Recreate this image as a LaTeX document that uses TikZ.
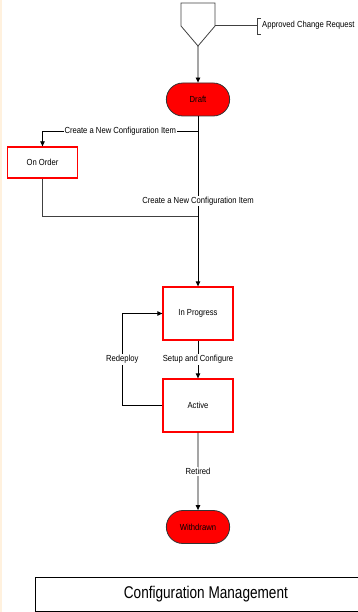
\documentclass[tikz,border=0pt]{standalone}
\usepackage{fontspec}
\usepackage{graphicx}
\setmainfont{Liberation Sans}
\usetikzlibrary{arrows.meta, positioning, shapes.misc}
\definecolor{statered}{HTML}{FF0000}
\definecolor{linegray}{HTML}{404040}
\definecolor{edgeglow}{HTML}{FFF1DE}
\newcommand{\nar}[1]{\scalebox{0.87}[1]{#1}}

\begin{document}
\begin{tikzpicture}[x=1pt, y=-1pt,
    flow/.style={-{Triangle[length=5pt, width=4.5pt]}, line width=0.8pt, black},
    plain/.style={line width=0.8pt, linegray},
    lbl/.style={fill=white, inner sep=1pt, font=\fontsize{8.8}{10}\selectfont},
    statebox/.style={draw=statered, line width=1.3pt, fill=white,
        minimum width=70pt, minimum height=53pt, font=\fontsize{8.8}{10}\selectfont},
    terminal/.style={rounded rectangle, draw=black!80, line width=0.8pt, fill=statered,
        minimum width=70pt, minimum height=33pt, font=\fontsize{8.8}{10}\selectfont}]
    \useasboundingbox (0,0) rectangle (357,612);
    \fill[edgeglow] (0,0) rectangle (2,612);

    % entry connector
    \draw[plain] (181,3) -- (215,3) -- (215,26) -- (198,46) -- (181,26) -- cycle;
    \coordinate (entry) at (198,46);
    \coordinate (entryside) at (215,25);
    \coordinate (notepin) at (257,25);
    \draw[plain] (entryside) -- (notepin);
    \draw[plain] (261,18) -- (257,18) -- (257,34) -- (261,34);
    \node[anchor=west, inner sep=1pt, font=\fontsize{8.8}{10}\selectfont] (note) at (261,25) {\nar{Approved Change Request}};

    % states
    \node[terminal] (draft) at (198,99.5) {\nar{Draft}};
    \node[statebox, minimum height=31pt] (onorder) at (42.5,162.5) {\nar{On Order}};
    \node[statebox] (inprog) at (198,313.5) {\nar{In Progress}};
    \node[statebox] (active) at (198,405.5) {\nar{Active}};
    \node[terminal] (withdrawn) at (198,527) {\nar{Withdrawn}};

    % transitions
    \draw[flow] (entry) -- (draft);
    \coordinate (split) at (198,131);
    \coordinate (merge) at (198,216);
    \draw[flow] (split) -| (onorder.north) node[lbl, pos=0.25] {\nar{Create a New Configuration Item}};
    \draw[plain] (onorder.south) |- (merge);
    \draw[flow] (draft.south) -- (inprog.north) node[lbl, midway] {\nar{Create a New Configuration Item}};
    \draw[flow] (inprog) -- (active) node[lbl, midway] {\nar{Setup and Configure}};
    \draw[flow] (active.west) -- ++(-40,0) |- (inprog.west) node[lbl, pos=0.25] {\nar{Redeploy}};
    \draw[flow] (active) -- (withdrawn) node[lbl, midway] {\nar{Retired}};

    % title (box runs past the right edge)
    \node[draw, line width=0.8pt, anchor=north west, minimum width=341pt, minimum height=34pt]
        (titlebox) at (35,577) {};
    \node[font=\fontsize{17}{19}\selectfont] (title) at (titlebox.center) {\scalebox{0.8}[1]{Configuration Management}};
\end{tikzpicture}
\end{document}
